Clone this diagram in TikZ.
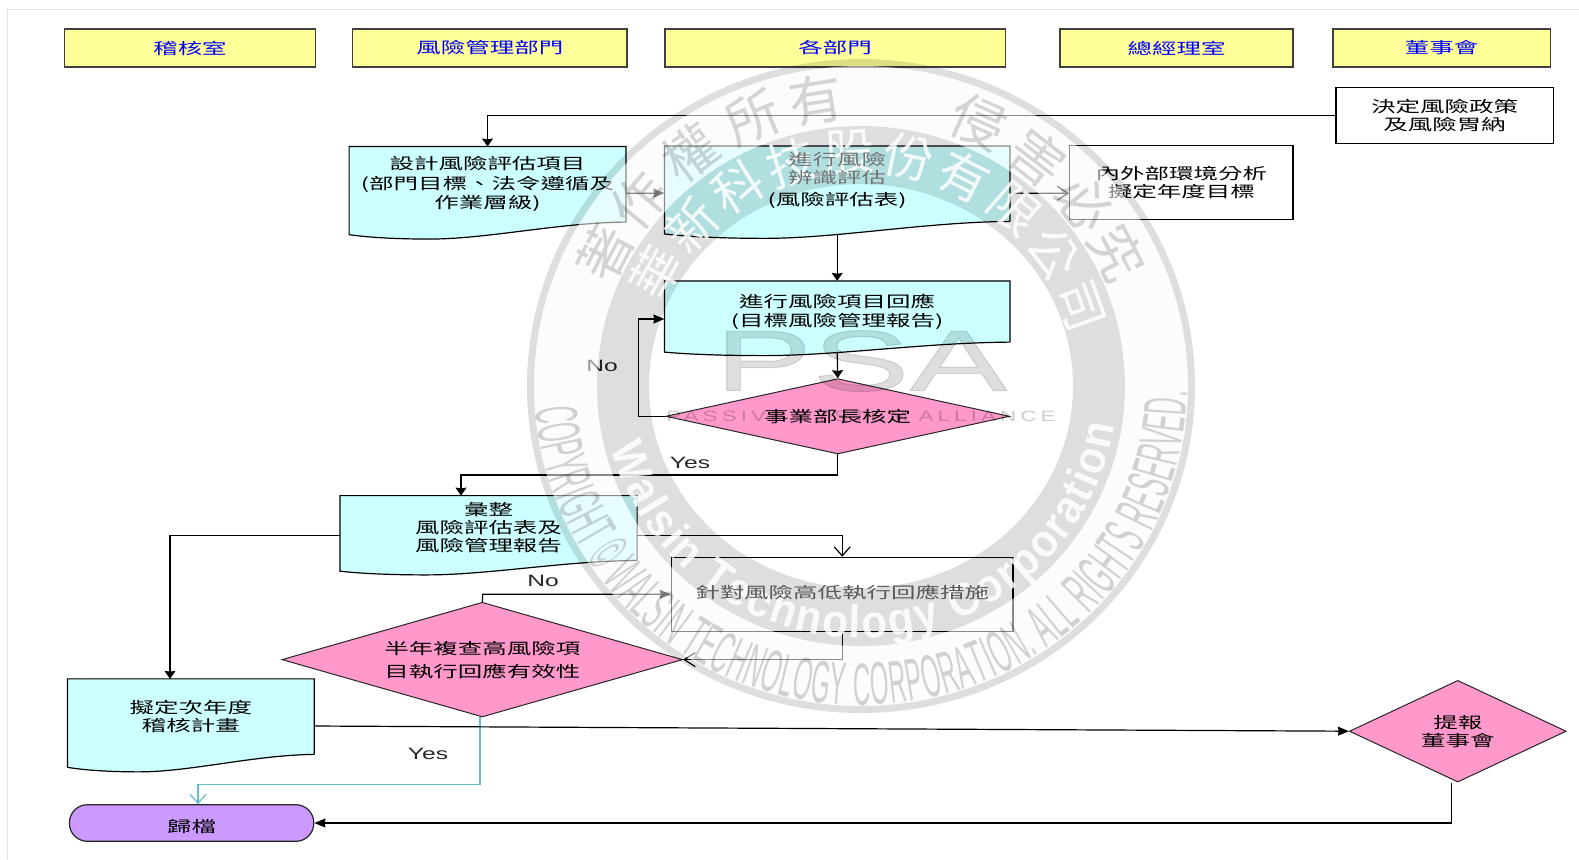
\documentclass[tikz,border=0pt]{standalone}
\usepackage{fontspec}
\usepackage{xcolor}
\usetikzlibrary{arrows.meta,shapes.geometric,calc,backgrounds,decorations.text}
\setmainfont[FakeStretch=1.57]{Noto Sans CJK TC}
\newfontfamily\lblfont[FakeStretch=1.5]{Liberation Sans}
\newfontfamily\stampcjk{Noto Sans CJK TC}
\newfontfamily\stampnarrow[FakeStretch=0.4]{Liberation Sans}
\newfontfamily\stampbold[FakeStretch=0.92]{Liberation Sans Bold}
\newfontfamily\stampwide[FakeStretch=1.7,FakeBold=1.2]{Liberation Sans}
\newfontfamily\stampspaced[FakeStretch=1.5,LetterSpace=27]{Liberation Sans}
\definecolor{hdryellow}{HTML}{FFFF99}
\definecolor{doccyan}{HTML}{CCFFFF}
\definecolor{decpink}{HTML}{FF99CC}
\definecolor{endpurple}{HTML}{CC99FF}
\definecolor{yesline}{HTML}{66BBCC}
\definecolor{framegray}{HTML}{E3E3E3}
\definecolor{bandwhite}{HTML}{FCFAFC}

\begin{document}
\begin{tikzpicture}[
  x=0.5pt, y=-0.5pt,
  boxsize/.style 2 args={minimum width=#1*0.5pt, minimum height=#2*0.5pt},
  txt/.style={align=center, inner sep=0pt, font=\fontsize{7.8}{9}\selectfont},
  hdr/.style={txt, rectangle, draw=black!75, line width=0.7pt, fill=hdryellow, text=blue},
  plainbox/.style={txt, rectangle, draw=black, line width=0.6pt, fill=white},
  docbox/.style={txt, rectangle},
  decbox/.style={txt, diamond, aspect=3, draw=black!85, line width=0.5pt, fill=decpink},
  endbox/.style={txt, rectangle, rounded corners=9pt, draw=black!85, line width=0.6pt, fill=endpurple},
  lbl/.style={inner sep=0pt, font=\lblfont\fontsize{8.2}{9}\selectfont, text=black!85},
  line/.style={line width=0.6pt, black},
  arrv/.style={line, -{Stealth[length=4pt, width=5.5pt, inset=0.4pt]}},
  arrh/.style={line, -{Stealth[length=5.5pt, width=4.5pt, inset=0.4pt]}},
  barbv/.style={line, -{Straight Barb[length=4.5pt, width=8pt]}},
  barbh/.style={line, -{Straight Barb[length=5.5pt, width=7pt]}},
]
  \useasboundingbox (0,0) rectangle (1579,859);
  \draw[framegray, line width=0.8pt] (7.6,859) -- (7.6,9.3) -- (1579,9.3);

  \node[hdr, boxsize={251.5}{38}] (audit) at (190,48) {稽核室};
  \node[hdr, boxsize={274.4}{38}] (riskdept) at (489.8,48) {風險管理部門};
  \node[hdr, boxsize={340.7}{38}] (depts) at (835.2,48) {各部門};
  \node[hdr, boxsize={233}{38}] (gmoffice) at (1176.5,48) {總經理室};
  \node[hdr, boxsize={217.4}{38}] (boardhdr) at (1441.7,48) {董事會};

  \node[plainbox, boxsize={217.5}{56}] (decide) at (1444.7,115.7) {決定風險政策\\及風險胃納};
  \node[docbox, boxsize={276}{74.7}] (setitem) at (487.5,184.3) {設計風險評估項目\\[0.8pt](部門目標、法令遵循及\\[0.8pt]作業層級)};
  \node[docbox, boxsize={344.8}{74.5}] (identify) at (837.2,183.7) {};
  \node[plainbox, boxsize={223.2}{74}] (envbox) at (1181.4,182.3) {內外部環境分析\\擬定年度目標};
  \node[docbox, boxsize={344.8}{60.4}] (respond) at (837.2,311.5) {進行風險項目回應\\[0.4pt](目標風險管理報告)};
  \node[decbox, boxsize={343.8}{75.3}] (mgr) at (837.7,416.3) {事業部長核定};
  \node[docbox, boxsize={296.4}{64}] (collect) at (488.5,528) {彙整\\風險評估表及\\風險管理報告};
  \node[plainbox, boxsize={341.6}{74}] (action) at (842.2,594.3) {};
  \node[decbox, boxsize={400.7}{114.7}] (half) at (482.3,659.6) {半年複查高風險項\\[2.5pt]目執行回應有效性};
  \node[docbox, boxsize={245.9}{74.7}] (nextplan) at (190.8,716.6) {擬定次年度\\稽核計畫};
  \node[endbox, boxsize={244.4}{36.6}] (archive) at (191.6,823) {\mbox{}\\[1pt]歸檔};
  \node[decbox, boxsize={216.8}{101.7}] (board) at (1457.8,731.2) {提報\\董事會};

  \begin{scope}[on background layer]
    \foreach \n/\d in {setitem/17, identify/17, respond/13.5, collect/14.5, nextplan/17.5}
      \draw[line, fill=doccyan] (\n.south east) -- (\n.north east) -- (\n.north west)
        -- ($(\n.south west)+(0,0.74*\d)$)
        .. controls ($(\n.south west)!.08!(\n.south east)+(0,0.93*\d)$) and ($(\n.south west)!.19!(\n.south east)+(0,\d)$)
        .. ($(\n.south west)!.29!(\n.south east)+(0,\d)$)
        .. controls ($(\n.south west)!.5!(\n.south east)+(0,\d)$) and ($(\n.south west)!.75!(\n.south east)+(0,0.05*\d)$)
        .. (\n.south east);
  \end{scope}

  \coordinate (yesturn) at (461,475);
  \coordinate (noturn) at (638.8,319);
  \coordinate (auditturn) at (170,535.3);
  \coordinate (actturn) at (842.2,535.3);
  \coordinate (noact) at (482.7,594.3);
  \coordinate (fileturn) at (198,784.3);

  \draw[arrv] (decide.west) -| (setitem.north);
  \draw[arrh] ([yshift=-4.5pt]setitem.east) -- ([yshift=-4.7pt]identify.west);
  \draw[barbh] ([yshift=-4.7pt]identify.east) -- ([yshift=-5.5pt]envbox.west);
  \draw[arrv] ([yshift=-6.5pt]identify.south) -- (respond.north);
  \draw[arrv] ([yshift=-5pt]respond.south) -- (mgr.north);
  \draw[arrh] (mgr.west) -| (noturn) -- (noturn -| respond.west);
  \draw[arrv] (mgr.south) |- (yesturn) -- (yesturn |- collect.north);
  \draw[arrv] (auditturn -| collect.west) -- (auditturn) -- (auditturn |- nextplan.north);
  \draw[barbv] (actturn -| collect.east) -- (actturn) -- (actturn |- action.north);
  \draw[arrh] (half.north) -- (noact) -- (noact -| action.west);
  \draw[barbh] (action.south) |- (half.east);
  \draw[barbv, yesline] ([xshift=-1.2pt]half.south) |- (fileturn) -- (fileturn |- archive.north);
  \draw[arrh] ([yshift=-4.7pt]nextplan.east) -- (board.west);
  \draw[arrh] ([xshift=-3.2pt]board.south) |- (archive.east);

  \node[lbl] (nolabel) at (602,366) {No};
  \node[lbl] (yeslabel) at (690,463) {Yes};
  \node[lbl] (noactlabel) at (543,580.7) {No};
  \node[lbl] (yesfile) at (428,754) {Yes};

  \coordinate (stamp) at (861,386);
  \begin{scope}[shift={(stamp)}, x=0.5pt, y=0.5pt]
    \fill[bandwhite, opacity=0.55, even odd rule] (0,0) ellipse [x radius=327, y radius=320] (0,0) ellipse [x radius=264, y radius=260];
    \fill[black, opacity=0.13, even odd rule] (0,0) ellipse [x radius=334, y radius=327] (0,0) ellipse [x radius=327, y radius=320];
    \fill[black, opacity=0.13, even odd rule] (0,0) ellipse [x radius=264, y radius=260] (0,0) ellipse [x radius=212, y radius=202];
    \foreach \ch/\a in {著/152.5, 作/140, 權/126.3, 所/112, 有/99, 侵/66, 害/52.4, 必/39.3, 究/27.4}
      \node[rotate=\a-90, text=black, text opacity=0.16, font=\stampcjk\fontsize{27}{27}\selectfont] at (\a:289) {\ch};
    \foreach \ch [count=\i from 0] in {華,新,科,技,股,份,有,限,公,司}
      \node[rotate=151-14.55*\i-90, text=white, text opacity=0.85, font=\stampcjk\fontsize{25}{25}\selectfont] at ({151-14.55*\i}:234) {\ch};
    \begin{scope}[opacity=0.17]
      \path[decorate, decoration={text along path, text align={fit to path},
        text={|\stampnarrow\fontsize{30}{30}\selectfont|COPYRIGHT © WALSIN TECHNOLOGY CORPORATION. ALL RIGHTS RESERVED.}}]
        (184:326 and 319) arc [start angle=184, end angle=359, x radius=326, y radius=319];
    \end{scope}
    \begin{scope}[opacity=0.85]
      \path[decorate, decoration={text along path, text align={fit to path},
        text={|\color{white}\stampbold\fontsize{23}{23}\selectfont|Walsin Technology Corporation}}]
        (194:257 and 252) arc [start angle=194, end angle=351, x radius=257, y radius=252];
    \end{scope}
    \node[opacity=0.13, inner sep=0pt, font=\stampwide\fontsize{43}{43}\selectfont] (psa) at (0,25) {PSA};
    \node[text=black, text opacity=0.2, inner sep=0pt, font=\stampspaced\fontsize{7.5}{8}\selectfont] (alliance) at (0,-30) {PASSIVE SYSTEM ALLIANCE};
  \end{scope}

  \node[txt] (identifytext) at (837.2,180.5) {\textcolor{black!55}{進行風險}\\\textcolor{black!55}{辨識評估}\\[2.2pt](風險評估表)};
  \node[txt, text=black!65] (actiontext) at (842.2,592.5) {針對風險高低執行回應措施};
\end{tikzpicture}
\end{document}
